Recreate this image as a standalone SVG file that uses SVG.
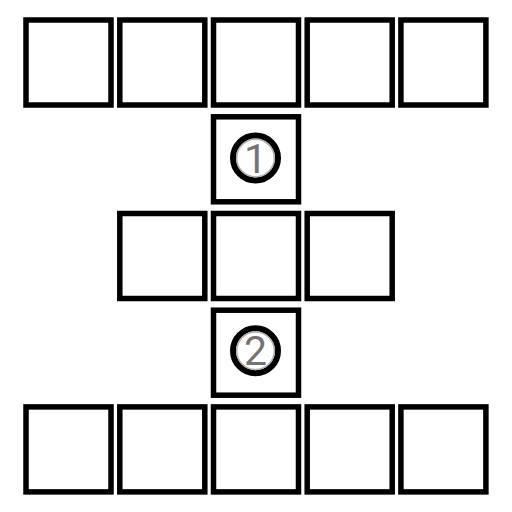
<svg xmlns="http://www.w3.org/2000/svg" width="512" height="512" viewBox="0 0 512 512">
<style>
.box{fill:#fff;stroke:#000;stroke-width:5.5}
.ring{fill:#fff;stroke:#000;stroke-width:6}
.inner{fill:none;stroke:#b0b0b0;stroke-width:1.5}
.num{font-family:Roboto,"Liberation Sans",sans-serif;font-weight:400;font-size:41px;fill:#747474;text-anchor:middle}
</style>
<rect width="512" height="512" fill="#fff"/>
<g id="connectors"></g>
<g id="r1c1"><rect class="box" x="26" y="20" width="85" height="85"/></g>
<g id="r1c2"><rect class="box" x="119.8" y="20" width="85" height="85"/></g>
<g id="r1c3"><rect class="box" x="213.5" y="20" width="85" height="85"/></g>
<g id="r1c4"><rect class="box" x="307.2" y="20" width="85" height="85"/></g>
<g id="r1c5"><rect class="box" x="400.9" y="20" width="85" height="85"/></g>
<g id="step1">
<rect class="box" x="213.5" y="116.8" width="85" height="85"/>
<circle class="ring" cx="255.5" cy="158" r="22.5"/>
<circle class="inner" cx="255.5" cy="158" r="18.8"/>
<text class="num" x="255.5" y="173">1</text>
</g>
<g id="r3c2"><rect class="box" x="119.8" y="213.5" width="85" height="85"/></g>
<g id="r3c3"><rect class="box" x="213.5" y="213.5" width="85" height="85"/></g>
<g id="r3c4"><rect class="box" x="307.2" y="213.5" width="85" height="85"/></g>
<g id="step2">
<rect class="box" x="213.5" y="310.2" width="85" height="85"/>
<circle class="ring" cx="255.5" cy="350.7" r="22.5"/>
<circle class="inner" cx="255.5" cy="350.7" r="18.8"/>
<text class="num" x="255.5" y="365">2</text>
</g>
<g id="r5c1"><rect class="box" x="26" y="406.9" width="85" height="85"/></g>
<g id="r5c2"><rect class="box" x="119.8" y="406.9" width="85" height="85"/></g>
<g id="r5c3"><rect class="box" x="213.5" y="406.9" width="85" height="85"/></g>
<g id="r5c4"><rect class="box" x="307.2" y="406.9" width="85" height="85"/></g>
<g id="r5c5"><rect class="box" x="400.9" y="406.9" width="85" height="85"/></g>
</svg>
